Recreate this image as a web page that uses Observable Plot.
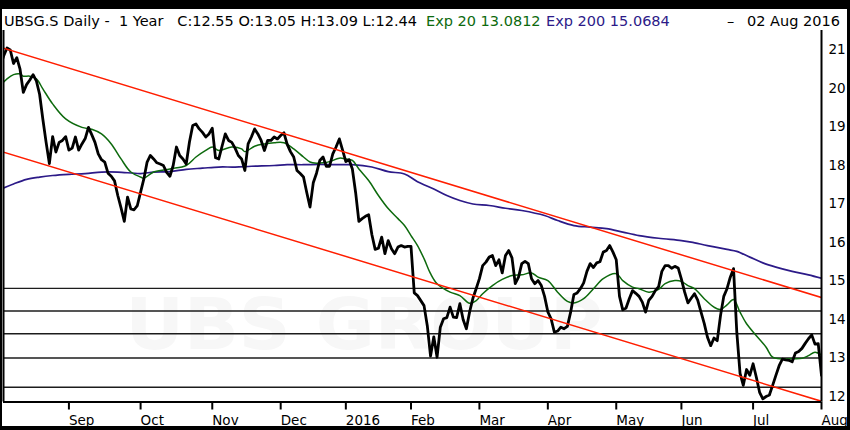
<!DOCTYPE html>
<html><head><meta charset="utf-8">
<script src="https://cdn.jsdelivr.net/npm/d3@7"></script>
<script src="https://cdn.jsdelivr.net/npm/@observablehq/plot@0.6"></script>
<style>
html,body{margin:0;padding:0;background:#000;}
#wrap{position:relative;width:850px;height:430px;background:#000;overflow:hidden;font-family:"DejaVu Sans",sans-serif;}
#head{position:absolute;left:2px;top:9px;width:845px;height:19px;background:#fff;z-index:2;}
#head span{position:absolute;top:3px;white-space:pre;font-size:14.5px;line-height:19px;}
#chart{position:absolute;left:2px;top:28px;z-index:1;}
</style></head><body>
<div id="wrap"><div id="head"></div><div id="chart"></div></div>
<script>
// ---- data ----
const ticker = "UBSG.S";
const period = "Daily -  1 Year";
const quoteLabels = ["C", "O", "H", "L"];
const quoteValues = [12.55, 13.05, 13.09, 12.44];
const emaNames = ["Exp 20", "Exp 200"];
const emaLast = ["13.0812", "15.0684"];
const lastDateLabel = "02 Aug 2016";

const startDate = "2015-08-03";
const endDate = "2016-08-02";
const holidays = ["2015-12-24","2015-12-25","2015-12-31","2016-01-01","2016-03-25","2016-03-28","2016-05-05","2016-05-16","2016-08-01"];
const monthLabels = ["Sep","Oct","Nov","Dec","2016","Feb","Mar","Apr","May","Jun","Jul","Aug"];
const priceTicks = [12, 13, 14, 15, 16, 17, 18, 19, 20, 21];

// daily closes, one per trading session
const close = [
 20.6, 20.85, 21.05, 21.0, 20.65, 20.8, 20.5, 19.9, 20.1, 20.22,
 20.36, 20.2, 19.85, 19.2, 18.6, 18.05, 18.75, 18.35, 18.6, 18.65,
 18.75, 18.4, 18.45, 18.74, 18.4, 18.56, 18.7, 18.99, 18.8, 18.6,
 18.3, 18.15, 18.09, 17.8, 17.72, 17.6, 17.22, 16.9, 16.55, 17.18,
 16.87, 16.85, 16.96, 17.31, 17.65, 18.09, 18.26, 18.17, 18.07, 18.04,
 18.0, 17.82, 17.72, 18.0, 18.48, 18.26, 18.17, 18.04, 18.61, 19.04,
 19.08, 18.95, 18.86, 18.74, 18.82, 18.97, 18.2, 18.17, 18.5, 18.82,
 18.65, 18.6, 18.45, 18.26, 18.17, 17.87, 18.56, 18.74, 18.95, 18.82,
 18.65, 18.39, 18.65, 18.65, 18.74, 18.69, 18.78, 18.85, 18.55, 18.36,
 18.22, 17.87, 17.79, 17.7, 17.3, 16.92, 17.55, 17.8, 18.13, 18.22,
 17.98, 17.98, 18.3, 18.48, 18.69, 18.4, 18.1, 18.15, 17.91, 17.3,
 16.55, 16.62, 16.68, 16.72, 16.2, 15.82, 15.85, 16.14, 15.71, 16.05,
 15.84, 15.71, 15.88, 15.92, 15.88, 15.9, 15.9, 14.69, 14.62, 14.49,
 14.36, 13.84, 13.05, 13.55, 13.02, 13.8, 14.02, 14.05, 14.32, 14.06,
 14.05, 14.41, 14.0, 13.76, 14.2, 14.55, 14.8, 15.06, 15.4, 15.49,
 15.62, 15.66, 15.4, 15.55, 15.21, 15.66, 15.79, 15.6, 14.93, 15.1,
 15.45, 15.51, 15.45, 15.06, 14.93, 15.01, 14.88, 14.6, 14.2, 14.02,
 13.67, 13.7, 13.8, 13.76, 13.82, 14.19, 14.65, 14.69, 14.8, 14.95,
 15.25, 15.45, 15.35, 15.47, 15.5, 15.75, 15.79, 15.92, 15.75, 15.55,
 14.6, 14.25, 14.3, 14.54, 14.75, 14.68, 14.6, 14.45, 14.19, 14.5,
 14.6, 14.75, 14.85, 15.25, 15.4, 15.4, 15.33, 15.38, 15.34, 15.05,
 14.71, 14.43, 14.55, 14.67, 14.5, 14.2, 13.9, 13.54, 13.32, 13.52,
 13.45, 14.1, 14.6, 14.8, 15.1, 15.32, 13.67, 12.6, 12.29, 12.7,
 12.55, 12.85, 12.5, 12.11, 11.94, 12.0, 12.04, 12.29, 12.55, 12.8,
 12.97, 12.95, 12.94, 12.9, 13.13, 13.17, 13.25, 13.38, 13.5, 13.6,
 13.36, 13.37, 12.55
];

// [session, value]
const ema20 = [[0,20.08],[2,20.25],[4,20.36],[6,20.38],[7,20.32],[9,20.32],[11,20.25],[13,19.99],[16,19.6],[20,19.21],
 [25,18.99],[28,18.94],[31,18.82],[34,18.56],[37,18.17],[40,17.83],[43,17.7],[44,17.67],[47,17.83],[52,17.91],
 [57,18.0],[60,18.22],[63,18.39],[65,18.48],[67,18.39],[71,18.48],[74,18.43],[75,18.36],[78,18.5],[81,18.56],
 [84,18.59],[87,18.59],[90,18.43],[93,18.22],[95,18.09],[97,18.06],[99,18.07],[101,18.1],[104,18.19],[106,18.17],
 [108,18.13],[110,17.91],[113,17.61],[116,17.22],[119,16.88],[122,16.62],[124,16.44],[126,16.18],[128,15.92],[130,15.58],
 [132,15.19],[134,14.93],[138,14.71],[141,14.62],[144,14.42],[146,14.49],[148,14.67],[151,14.88],[154,15.04],[157,15.14],
 [160,15.16],[163,15.21],[165,15.1],[168,15.01],[171,14.71],[174,14.47],[176,14.43],[179,14.54],[182,14.8],[185,15.06],
 [189,15.19],[191,15.01],[194,14.84],[196,14.8],[199,14.71],[202,14.78],[204,14.93],[207,15.01],[209,14.99],[211,14.88],
 [213,14.8],[216,14.54],[219,14.32],[221,14.26],[223,14.38],[225,14.52],[227,14.19],[229,13.89],[232,13.58],[235,13.28],
 [237,13.02],[240,12.98],[243,12.98],[246,12.99],[248,13.06],[250,13.15],[252,13.08]];

const ema200 = [[0,17.38],[4,17.52],[8,17.64],[12,17.7],[16,17.74],[21,17.77],[26,17.79],[31,17.83],[36,17.83],[43,17.79],
 [47,17.83],[52,17.84],[57,17.9],[62,17.93],[67,17.96],[72,17.96],[77,17.98],[84,18.0],[88,18.02],[93,18.02],
 [98,18.03],[103,18.02],[108,18.02],[114,17.96],[119,17.84],[124,17.78],[128,17.58],[133,17.39],[137,17.22],[141,17.09],
 [145,17.0],[150,16.96],[155,16.89],[160,16.83],[167,16.7],[171,16.57],[176,16.44],[181,16.4],[186,16.36],[191,16.27],
 [196,16.18],[202,16.11],[209,16.05],[212,16.01],[217,15.92],[223,15.82],[226,15.77],[230,15.62],[234,15.47],[238,15.36],
 [243,15.25],[248,15.16],[252,15.07]];

const channelUpper = [[0, 21.07], [252, 14.57]];
const channelLower = [[0, 18.37], [252, 11.875]];
const levels = [14.81, 14.22, 13.63, 13.0, 12.24];
const watermarkText = "UBS GROUP";

// ---- colours ----
const cPrice = "#000000", cEma20 = "#0d6a0d", cEma200 = "#2c1a88", cRed = "#ff1e00";

// ---- header ----
const head = document.getElementById("head");
function addSpan(text, left, color) {
  const s = document.createElement("span");
  s.textContent = text; s.style.left = left + "px"; s.style.color = color;
  head.appendChild(s);
}
addSpan(`${ticker} ${period}   ` + quoteLabels.map((l, i) => `${l}:${quoteValues[i].toFixed(2)}`).join(" "), 2, "#000");
addSpan(`${emaNames[0]} ${emaLast[0]}`, 424, cEma20);
addSpan(`${emaNames[1]} ${emaLast[1]}`, 544, cEma200);
addSpan("–", 725, "#000");
addSpan(lastDateLabel, 745, "#000");

// ---- trading calendar ----
const fmt = d3.utcFormat("%Y-%m-%d");
const days = d3.utcDays(new Date(startDate + "T00:00Z"), d3.utcDay.offset(new Date(endDate + "T00:00Z"), 1))
  .filter(d => d.getUTCDay() % 6 !== 0 && !holidays.includes(fmt(d)));
const tickSessions = [];
days.forEach((d, i) => { if (i > 0 && d.getUTCMonth() !== days[i - 1].getUTCMonth()) tickSessions.push(i); });
const tickLabel = new Map(tickSessions.map((s, j) => [s, monthLabels[j]]));

const priceData = close.map((v, i) => ({i, v}));
const channel = [
  ...channelUpper.map(([i, v]) => ({i, v, id: "upper"})),
  ...channelLower.map(([i, v]) => ({i, v, id: "lower"}))
];

const xDomain = [0.92, close.length - 1];
const yDomain = [11.857, 21.506];

const chart = Plot.plot({
  width: 845, height: 398,
  marginLeft: 1, marginRight: 26, marginTop: 2, marginBottom: 24.5,
  x: {domain: xDomain, label: null},
  y: {domain: yDomain, label: null},
  style: {fontFamily: "DejaVu Sans, sans-serif", fontSize: "13px", background: "#fff", color: "#000", overflow: "visible"},
  marks: [
    Plot.text([watermarkText], {frameAnchor: "bottom-left", dx: 122, dy: -53, text: d => d, fontSize: 72, fontWeight: "bold", fill: "#f7f7f7", textAnchor: "start", lineAnchor: "bottom"}),
    Plot.ruleY(levels, {stroke: "#1c1c1c", strokeWidth: 1.3}),
    Plot.line(ema200, {x: d => d[0], y: d => d[1], stroke: cEma200, strokeWidth: 1.7, curve: "catmull-rom", clip: true}),
    Plot.line(ema20, {x: d => d[0], y: d => d[1], stroke: cEma20, strokeWidth: 1.5, curve: "catmull-rom", clip: true}),
    Plot.line(priceData, {x: "i", y: "v", stroke: cPrice, strokeWidth: 2.8, strokeLinejoin: "round", clip: true}),
    Plot.line(channel, {x: "i", y: "v", z: "id", stroke: cRed, strokeWidth: 1.5, clip: true}),
    Plot.ruleX([xDomain[0]], {stroke: "#000", strokeWidth: 2}),
    Plot.ruleX([xDomain[1]], {stroke: "#000", strokeWidth: 2}),
    Plot.ruleY([yDomain[0]], {stroke: "#000", strokeWidth: 2}),
    Plot.axisY({ticks: priceTicks, anchor: "right", tickSize: 0, tickPadding: 7, fontSize: 13.5, tickFormat: d => String(d)}),
    Plot.axisX({ticks: tickSessions, anchor: "bottom", tickSize: 8, tickPadding: 5, strokeWidth: 2, stroke: "#000", textAnchor: "start", fontSize: 13.5, tickFormat: s => tickLabel.get(s)})
  ]
});
document.getElementById("chart").appendChild(chart);
</script>
</body></html>
